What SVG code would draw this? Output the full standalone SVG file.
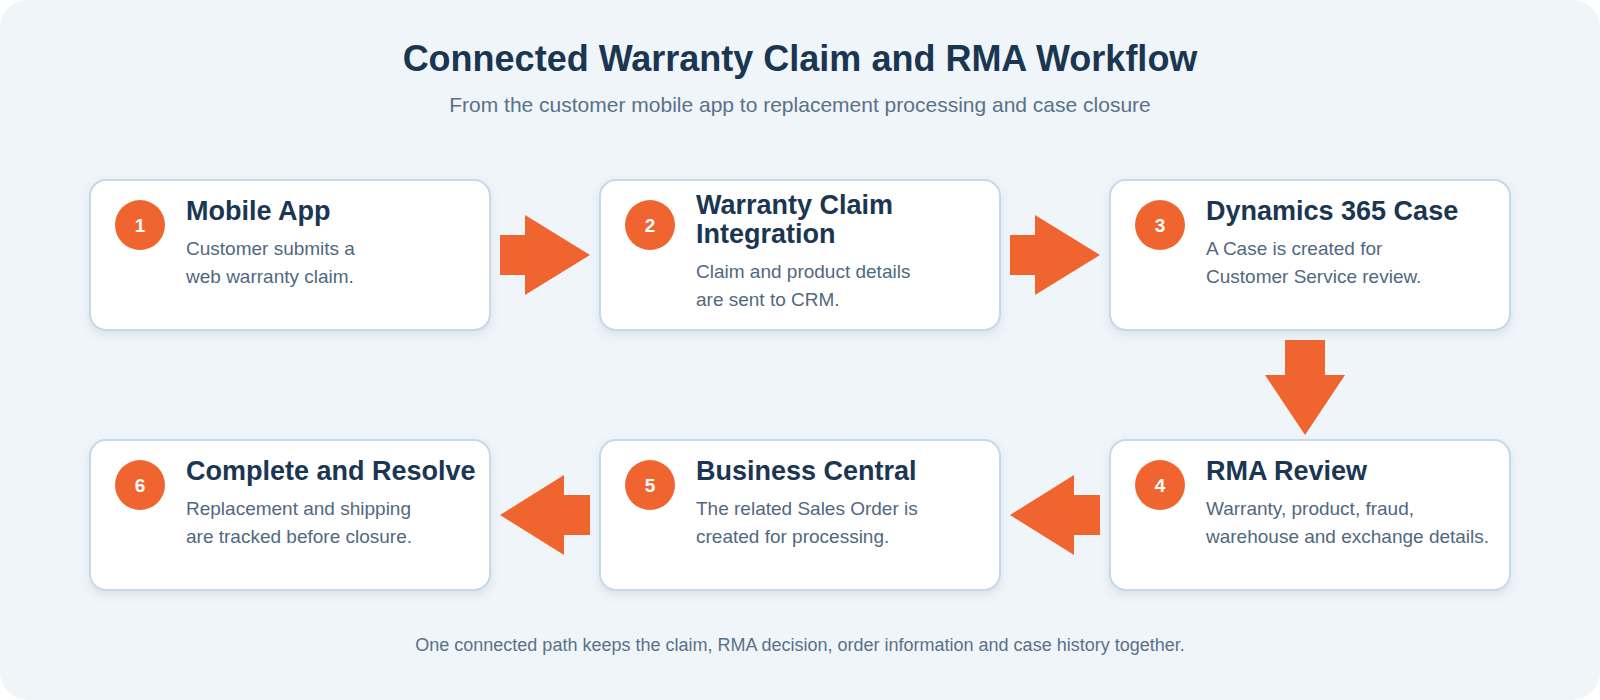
<svg xmlns="http://www.w3.org/2000/svg" width="1600" height="700" viewBox="0 0 1600 700">
<defs>
<filter id="sh" x="-10%" y="-20%" width="120%" height="150%">
<feDropShadow dx="0" dy="4" stdDeviation="5" flood-color="#5a7a96" flood-opacity="0.16"/>
</filter>
<style>
.card{fill:#ffffff;stroke:#c8d8e5;stroke-width:2;filter:url(#sh)}
.num{fill:#f0652f}
.numt{fill:#ffffff;font-family:"Liberation Sans",Arial,sans-serif;font-weight:700;font-size:19px;text-anchor:middle}
.ttl{fill:#1b3651;font-family:"Liberation Sans",Arial,sans-serif;font-weight:700;font-size:27px}
.dsc{fill:#51687f;font-family:"Liberation Sans",Arial,sans-serif;font-size:19px}
.arrow{fill:#f0652f}
</style>
</defs>
<rect x="0" y="0" width="1600" height="700" fill="#ffffff"/>
<rect x="0" y="0" width="1600" height="700" rx="28" fill="#f0f5fa"/>
<text x="800" y="71" text-anchor="middle" font-family="'Liberation Sans',Arial,sans-serif" font-weight="700" font-size="36" fill="#1b3651">Connected Warranty Claim and RMA Workflow</text>
<text x="800" y="112" text-anchor="middle" font-family="'Liberation Sans',Arial,sans-serif" font-size="21" fill="#5a7188">From the customer mobile app to replacement processing and case closure</text>

<g id="connectors">
<polygon class="arrow" points="500,235 525,235 525,215 590,255 525,295 525,275 500,275"/>
<polygon class="arrow" points="1010,235 1035,235 1035,215 1100,255 1035,295 1035,275 1010,275"/>
<polygon class="arrow" points="1285,340 1325,340 1325,375 1345,375 1305,435 1265,375 1285,375"/>
<polygon class="arrow" points="1100,495 1074,495 1074,475 1010,515 1074,555 1074,535 1100,535"/>
<polygon class="arrow" points="590,495 564,495 564,475 500,515 564,555 564,535 590,535"/>
</g>

<g id="node1">
<rect class="card" x="90" y="180" width="400" height="150" rx="16"/>
<circle class="num" cx="140" cy="225" r="25"/>
<text class="numt" x="140" y="232">1</text>
<text class="ttl" x="186" y="220">Mobile App</text>
<text class="dsc" x="186" y="255">Customer submits a</text>
<text class="dsc" x="186" y="283">web warranty claim.</text>
</g>
<g id="node2">
<rect class="card" x="600" y="180" width="400" height="150" rx="16"/>
<circle class="num" cx="650" cy="225" r="25"/>
<text class="numt" x="650" y="232">2</text>
<text class="ttl" x="696" y="214">Warranty Claim</text>
<text class="ttl" x="696" y="243">Integration</text>
<text class="dsc" x="696" y="278">Claim and product details</text>
<text class="dsc" x="696" y="306">are sent to CRM.</text>
</g>
<g id="node3">
<rect class="card" x="1110" y="180" width="400" height="150" rx="16"/>
<circle class="num" cx="1160" cy="225" r="25"/>
<text class="numt" x="1160" y="232">3</text>
<text class="ttl" x="1206" y="220">Dynamics 365 Case</text>
<text class="dsc" x="1206" y="255">A Case is created for</text>
<text class="dsc" x="1206" y="283">Customer Service review.</text>
</g>
<g id="node4">
<rect class="card" x="1110" y="440" width="400" height="150" rx="16"/>
<circle class="num" cx="1160" cy="485" r="25"/>
<text class="numt" x="1160" y="492">4</text>
<text class="ttl" x="1206" y="480">RMA Review</text>
<text class="dsc" x="1206" y="515">Warranty, product, fraud,</text>
<text class="dsc" x="1206" y="543">warehouse and exchange details.</text>
</g>
<g id="node5">
<rect class="card" x="600" y="440" width="400" height="150" rx="16"/>
<circle class="num" cx="650" cy="485" r="25"/>
<text class="numt" x="650" y="492">5</text>
<text class="ttl" x="696" y="480">Business Central</text>
<text class="dsc" x="696" y="515">The related Sales Order is</text>
<text class="dsc" x="696" y="543">created for processing.</text>
</g>
<g id="node6">
<rect class="card" x="90" y="440" width="400" height="150" rx="16"/>
<circle class="num" cx="140" cy="485" r="25"/>
<text class="numt" x="140" y="492">6</text>
<text class="ttl" x="186" y="480">Complete and Resolve</text>
<text class="dsc" x="186" y="515">Replacement and shipping</text>
<text class="dsc" x="186" y="543">are tracked before closure.</text>
</g>

<text x="800" y="651" text-anchor="middle" font-family="'Liberation Sans',Arial,sans-serif" font-size="18" fill="#5a7188">One connected path keeps the claim, RMA decision, order information and case history together.</text>
</svg>
